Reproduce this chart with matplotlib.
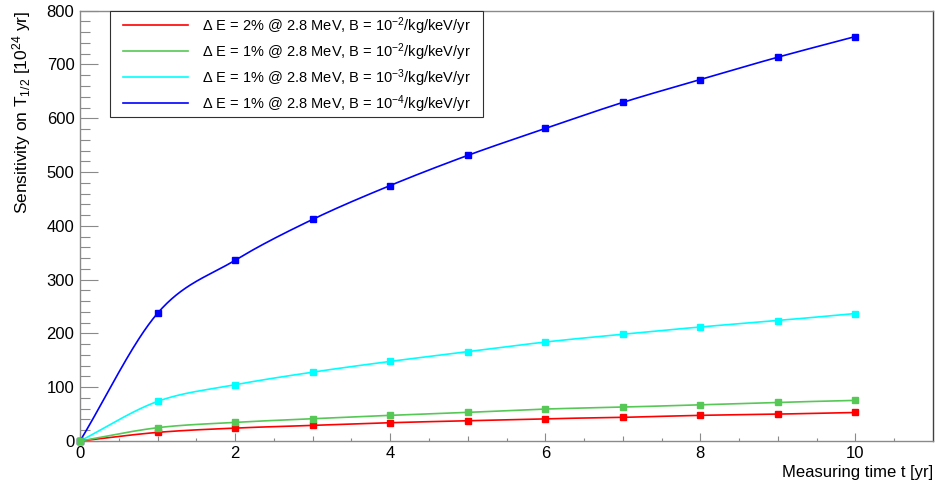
import numpy as np
import matplotlib
matplotlib.use("Agg")
import matplotlib.pyplot as plt
from matplotlib.ticker import MultipleLocator, FixedLocator, NullFormatter
from matplotlib.patches import Rectangle

plt.rcParams['font.family'] = ['Liberation Sans', 'DejaVu Sans']
plt.rcParams['mathtext.fontset'] = 'custom'
plt.rcParams['mathtext.rm'] = 'Liberation Sans'
plt.rcParams['mathtext.it'] = 'Liberation Sans:italic'
plt.rcParams['mathtext.bf'] = 'Liberation Sans:bold'

# ---- data ----
years = [0, 1, 2, 3, 4, 5, 6, 7, 8, 9, 10]
sens_dE2_B1e2 = [0, 16, 24, 29, 34, 37.7, 41.4, 44, 47.7, 50, 53]
sens_dE1_B1e2 = [0, 24.7, 34.6, 41.4, 47.7, 53.2, 59.4, 63, 67.4, 71.8, 75.5]
sens_dE1_B1e3 = [0, 73.6, 104.5, 128, 148, 166, 184, 198.5, 212, 224, 237]
sens_dE1_B1e4 = [0, 237.5, 336, 412, 475, 531, 581, 629.5, 672, 713.6, 752]

labels = [
    "\u0394 E = 2% @ 2.8 MeV, B = 10$^{-2}$/kg/keV/yr",
    "\u0394 E = 1% @ 2.8 MeV, B = 10$^{-2}$/kg/keV/yr",
    "\u0394 E = 1% @ 2.8 MeV, B = 10$^{-3}$/kg/keV/yr",
    "\u0394 E = 1% @ 2.8 MeV, B = 10$^{-4}$/kg/keV/yr",
]
colors = ["#ff0000", "#55c855", "#00ffff", "#0000ff"]
series = [sens_dE2_B1e2, sens_dE1_B1e2, sens_dE1_B1e3, sens_dE1_B1e4]
zorders = [4, 5, 3, 2]


def smooth_curve(x, y, xs):
    """Cubic Hermite (Catmull-Rom style) curve through the points."""
    x = np.asarray(x, float)
    y = np.asarray(y, float)
    n = len(x)
    d = np.diff(y) / np.diff(x)
    m = np.zeros(n)
    m[0] = d[0]
    m[-1] = d[-1]
    m[1:-1] = (y[2:] - y[:-2]) / (x[2:] - x[:-2])
    idx = np.clip(np.searchsorted(x, xs) - 1, 0, n - 2)
    h = x[idx + 1] - x[idx]
    t = (xs - x[idx]) / h
    h00 = 2 * t ** 3 - 3 * t ** 2 + 1
    h10 = t ** 3 - 2 * t ** 2 + t
    h01 = -2 * t ** 3 + 3 * t ** 2
    h11 = t ** 3 - t ** 2
    return (h00 * y[idx] + h10 * h * m[idx] + h01 * y[idx + 1]
            + h11 * h * m[idx + 1])


fig = plt.figure(figsize=(9.36, 4.84), dpi=100)
ax = fig.add_axes([80 / 936, 43 / 484, 853 / 936, 430.3 / 484])

xs = np.linspace(0, 10, 500)
handles = []
for ys, c, lab, z in zip(series, colors, labels, zorders):
    ln, = ax.plot(xs, smooth_curve(years, ys, xs), color=c, lw=1.2,
                  label=lab, zorder=z)
    ax.plot(years, ys, ls='none', marker='s', ms=4.3, color=c,
            zorder=z + 0.5, clip_on=False)
    handles.append(ln)

ax.set_xlim(0, 11)
ax.set_ylim(0, 800)

grey = '#8a8a8a'
for s in ['left', 'bottom', 'top']:
    ax.spines[s].set_color(grey)
ax.spines['right'].set_color('#404040')
for s in ax.spines.values():
    s.set_linewidth(1.0)

ax.xaxis.set_major_locator(MultipleLocator(2))
ax.xaxis.set_minor_locator(FixedLocator([1, 3, 5, 7, 9]))
ax.yaxis.set_major_locator(MultipleLocator(100))
ax.yaxis.set_minor_locator(MultipleLocator(20))
ax.tick_params(axis='x', which='major', direction='in', length=5.8, width=0.8,
               color=grey, labelsize=12, pad=3.5, top=False)
ax.tick_params(axis='x', which='minor', direction='in', length=3.6, width=0.8,
               color=grey, top=False)
ax.tick_params(axis='y', which='major', direction='in', length=13, width=0.8,
               color=grey, labelsize=12, pad=4, right=False)
ax.tick_params(axis='y', which='minor', direction='in', length=7, width=0.8,
               color=grey, right=False)

# extra fine ticks on x axis at half-integers
ax2 = ax.twiny()
ax2.set_xlim(ax.get_xlim())
ax2.xaxis.tick_bottom()
ax2.xaxis.set_major_locator(FixedLocator(np.arange(0.5, 11, 1.0)))
ax2.xaxis.set_major_formatter(NullFormatter())
ax2.tick_params(axis='x', which='major', direction='in', length=2.2,
                width=0.8, color=grey)
for s in ax2.spines.values():
    s.set_visible(False)

ax.set_xlabel("Measuring time t [yr]", fontsize=12, loc='right', labelpad=3)
ax.set_ylabel("Sensitivity on T$_{1/2}$ [10$^{24}$ yr]", fontsize=12.5,
              loc='top', labelpad=10)

# legend (frame drawn separately to get ROOT-like padding)
leg = fig.legend(handles=handles, loc='upper left',
                 bbox_to_anchor=(123 / 936, 1 - 15 / 484),
                 bbox_transform=fig.transFigure, borderaxespad=0,
                 fontsize=10.5, frameon=False,
                 handlelength=4.45, handletextpad=0.95,
                 labelspacing=0.3, borderpad=0.0)
leg.set_zorder(10)
fig.canvas.draw()
bb = leg.get_window_extent()
x0 = 110
x1 = bb.x1 + 13
y_top = 484 - 11
y_bot = 484 - 117
rect = Rectangle((x0 / 936, y_bot / 484), (x1 - x0) / 936,
                 (y_top - y_bot) / 484, transform=fig.transFigure,
                 facecolor='white', edgecolor='#303030', linewidth=0.8,
                 zorder=9)
fig.add_artist(rect)

fig.savefig("out.png", dpi=100)
